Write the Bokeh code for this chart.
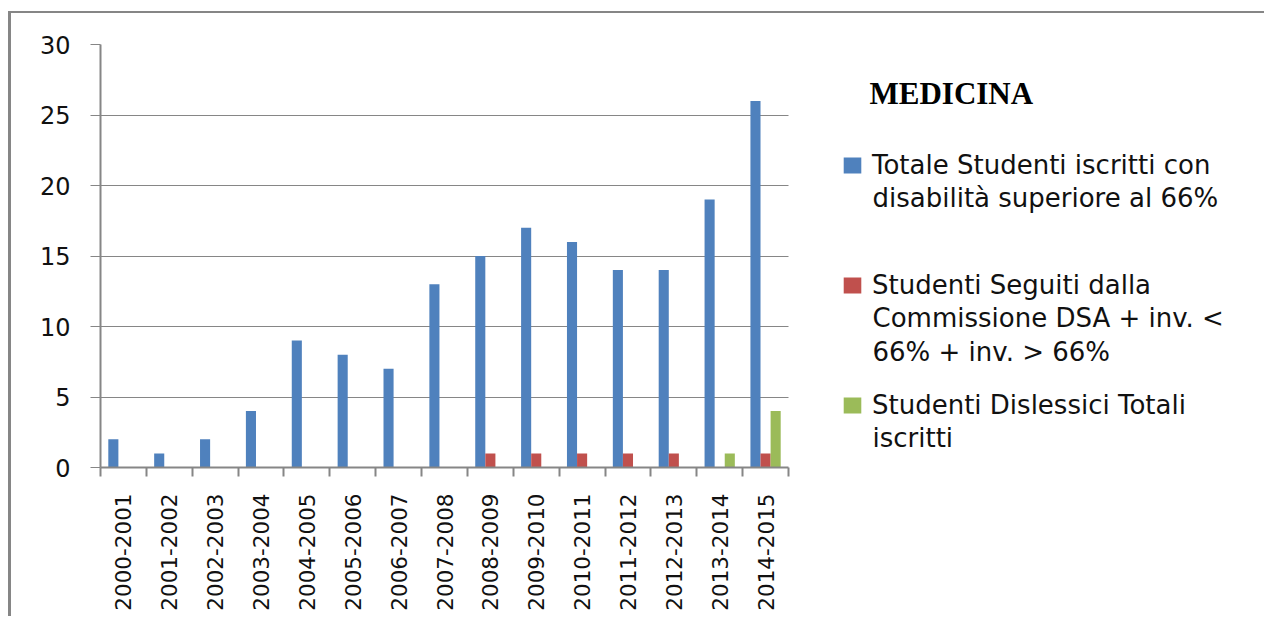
import math
from bokeh.plotting import figure
from bokeh.models import (Range1d, FixedTicker, Legend, LegendItem, Label,
                          ColumnDataSource)
from bokeh.embed import file_html
from bokeh.resources import INLINE

# ---------------- data ----------------
categories = ["2000-2001", "2001-2002", "2002-2003", "2003-2004", "2004-2005",
              "2005-2006", "2006-2007", "2007-2008", "2008-2009", "2009-2010",
              "2010-2011", "2011-2012", "2012-2013", "2013-2014", "2014-2015"]
totale = [2, 1, 2, 4, 9, 8, 7, 13, 15, 17, 16, 14, 14, 19, 26]
seguiti = [0, 0, 0, 0, 0, 0, 0, 0, 1, 1, 1, 1, 1, 0, 1]
dislessici = [0, 0, 0, 0, 0, 0, 0, 0, 0, 0, 0, 0, 0, 1, 4]
series_names = ["Totale Studenti iscritti con\ndisabilità superiore al 66%",
                "Studenti Seguiti dalla\nCommissione DSA + inv. <\n66% + inv. > 66%",
                "Studenti Dislessici Totali\niscritti"]
colors = ["#4F81BD", "#C0504D", "#9BBB59"]
y_ticks = [0, 5, 10, 15, 20, 25, 30]
title_text = "MEDICINA"

GRAY = "#868686"
FONT = "DejaVu Sans"
TEXT_COLOR = "#111111"

# layout geometry (pixels)
FIG_W, FIG_H = 1256, 605
LEFT, TOP, BOTTOM = 89, 31, FIG_H - 454
CAT_AREA_W = 688          # width taken by the category axis
FRAME_W = FIG_W - LEFT    # frame extends to the right edge (legend lives there)

# legend geometry, relative to frame (x from left, y up from bottom)
LEG_X = 741               # glyph box left
LEG_TEXT_X = 772          # text left
LEG_FIRST_BASELINE = 294  # first entry baseline, measured from frame bottom
LEG_ENTRY_STEP = 120
LEG_LINE_STEP = 34
LABEL_SHIFT = 10          # compensation for label baseline placement

n = len(categories)
idx = list(range(n))
src = ColumnDataSource(dict(
    x0=[i - 0.22 for i in idx],
    x1=[i + 0.0 for i in idx],
    x2=[i + 0.22 for i in idx],
    totale=totale, seguiti=seguiti, dislessici=dislessici))

x_end = -0.5 + n * FRAME_W / CAT_AREA_W
p = figure(width=FIG_W, height=FIG_H, x_range=Range1d(-0.5, x_end),
           y_range=Range1d(0, 30), output_backend="svg", toolbar_location=None,
           min_border_left=LEFT, min_border_right=0, min_border_top=TOP,
           min_border_bottom=BOTTOM, margin=(11, 0, 0, 8))
p.styles = {"border-left": "3px solid " + GRAY, "border-top": "2px solid " + GRAY}
p.outline_line_color = None
p.background_fill_color = "white"
p.border_fill_color = "white"

bw = 0.22
r0 = p.vbar(x="x0", top="totale", width=bw, source=src, fill_color=colors[0], line_color=None)
r1 = p.vbar(x="x1", top="seguiti", width=bw, source=src, fill_color=colors[1], line_color=None)
r2 = p.vbar(x="x2", top="dislessici", width=bw, source=src, fill_color=colors[2], line_color=None)

# grid (horizontal lines limited to the category area)
p.xgrid.visible = False
yg = p.ygrid[0]
yg.ticker = FixedTicker(ticks=y_ticks)
yg.grid_line_color = GRAY
yg.grid_line_width = 1
try:
    yg.cross_bounds = (-0.5, n - 0.5)
except AttributeError:
    yg.visible = False
    p.segment(x0=[-0.5] * len(y_ticks), x1=[n - 0.5] * len(y_ticks),
              y0=y_ticks, y1=y_ticks, line_color=GRAY, line_width=1)

# y axis
ya = p.yaxis[0]
ya.ticker = FixedTicker(ticks=y_ticks)
ya.axis_line_color = GRAY
ya.axis_line_width = 2
ya.major_tick_line_color = GRAY
ya.major_tick_out = 10
ya.major_tick_in = 0
ya.minor_tick_line_color = None
ya.major_label_text_font = FONT
ya.major_label_text_font_size = "24px"
ya.major_label_text_color = TEXT_COLOR
ya.major_label_standoff = 20

# x axis: labels at category centres, ticks at category boundaries
xa = p.xaxis[0]
xa.bounds = (-0.5, n - 0.5)
xa.ticker = FixedTicker(ticks=idx, minor_ticks=[i - 0.5 for i in range(n + 1)])
xa.major_label_overrides = {i: c for i, c in zip(idx, categories)}
xa.major_label_orientation = math.pi / 2
xa.axis_line_color = GRAY
xa.axis_line_width = 2
xa.major_tick_line_color = None
xa.major_tick_out = 0
xa.major_tick_in = 0
xa.minor_tick_line_color = GRAY
xa.minor_tick_line_width = 2
xa.minor_tick_out = 9
xa.minor_tick_in = 0
xa.major_label_text_font = FONT
xa.major_label_text_font_size = "21.5px"
xa.major_label_text_color = TEXT_COLOR
xa.major_label_standoff = 17

# legend: one legend per series (glyph + first line), continuation lines as labels
for j, (rend, name) in enumerate(zip([r0, r1, r2], series_names)):
    lines = name.split("\n")
    base = LEG_FIRST_BASELINE - j * LEG_ENTRY_STEP
    leg = Legend(items=[LegendItem(label=lines[0], renderers=[rend])],
                 location=(LEG_X, base - 7),
                 background_fill_alpha=0, border_line_color=None, padding=0,
                 margin=0, spacing=0, glyph_width=22, glyph_height=20,
                 label_standoff=9, label_text_font=FONT,
                 label_text_font_size="26px", label_text_color=TEXT_COLOR,
                 label_height=16)
    p.add_layout(leg)
    for k, line in enumerate(lines[1:], start=1):
        p.add_layout(Label(x=LEG_TEXT_X, y=base - k * LEG_LINE_STEP + LABEL_SHIFT,
                           x_units="screen", y_units="screen", text=line,
                           text_font=FONT, text_font_size="26px",
                           text_color=TEXT_COLOR, text_baseline="alphabetic"))

title = Label(x=769, y=374, x_units="screen", y_units="screen", text=title_text,
              text_font="Liberation Serif", text_font_style="bold",
              text_font_size="31px", text_color="#000000",
              text_baseline="alphabetic")
p.add_layout(title)

open("out.html", "w").write(file_html(p, INLINE))
